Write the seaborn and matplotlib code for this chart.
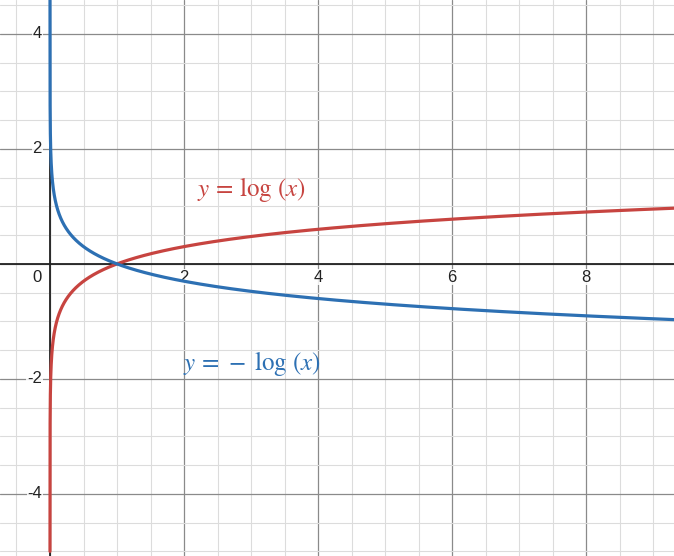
import numpy as np
import pandas as pd
import matplotlib.pyplot as plt
import seaborn as sns

# sample points along x for the two curves
x_vals = np.geomspace(1e-5, 9.4, 1500)
red_label = r'$y\,=\,\log\,(x)$'
blue_label = r'$y\,=\,-\;\log\,(x)$'
x_ticks = [2, 4, 6, 8]
y_ticks = [-4, -2, 2, 4]

df = pd.DataFrame({
    'x': np.concatenate([x_vals, x_vals]),
    'y': np.concatenate([np.log10(x_vals), -np.log10(x_vals)]),
    'curve': ['log'] * len(x_vals) + ['neglog'] * len(x_vals),
})

sns.set_style('white')
plt.rcParams['font.family'] = ['Liberation Sans', 'DejaVu Sans']
plt.rcParams['mathtext.fontset'] = 'stix'

fig = plt.figure(figsize=(6.74, 5.56), dpi=100)
ax = fig.add_axes([0, 0, 1, 1])
xmin, xmax = -0.746, 9.31
ymin, ymax = -5.08, 4.59
ax.set_xlim(xmin, xmax)
ax.set_ylim(ymin, ymax)

# grid
for v in np.arange(-0.5, 9.5, 0.5):
    major = abs(v / 2 - round(v / 2)) < 1e-9
    ax.axvline(v, color='#8a8a8a' if major else '#dcdcdc', lw=0.9 if major else 0.8, zorder=0)
for v in np.arange(-5, 5, 0.5):
    major = abs(v / 2 - round(v / 2)) < 1e-9
    ax.axhline(v, color='#8a8a8a' if major else '#dcdcdc', lw=0.9 if major else 0.8, zorder=0)
ax.axhline(0, color='#222222', lw=1.3, zorder=1)
ax.axvline(0, color='#222222', lw=1.3, zorder=1)

sns.lineplot(data=df, x='x', y='y', hue='curve', palette=['#c74440', '#2d70b3'],
             linewidth=2.3, legend=False, sort=False, estimator=None, ax=ax, zorder=3)

ax.set_xticks([])
ax.set_yticks([])
ax.set_xlabel('')
ax.set_ylabel('')
for s in ax.spines.values():
    s.set_visible(False)

box = dict(facecolor='white', edgecolor='none', pad=0.5, alpha=0.85)
for t in x_ticks:
    ax.text(t, -0.23, str(t), ha='center', va='center', fontsize=12, color='#222222', bbox=box, zorder=2)
for t in y_ticks:
    ax.text(-0.12, t, str(t), ha='right', va='center', fontsize=12, color='#222222', bbox=box, zorder=2)
ax.text(-0.12, -0.23, '0', ha='right', va='center', fontsize=12, color='#222222', zorder=2)

ax.text(2.19, 1.29, red_label, color='#c74440', fontsize=18, ha='left', va='center', zorder=4)
ax.text(1.99, -1.74, blue_label, color='#2d70b3', fontsize=18, ha='left', va='center', zorder=4)

fig.savefig('out.png', dpi=100)
